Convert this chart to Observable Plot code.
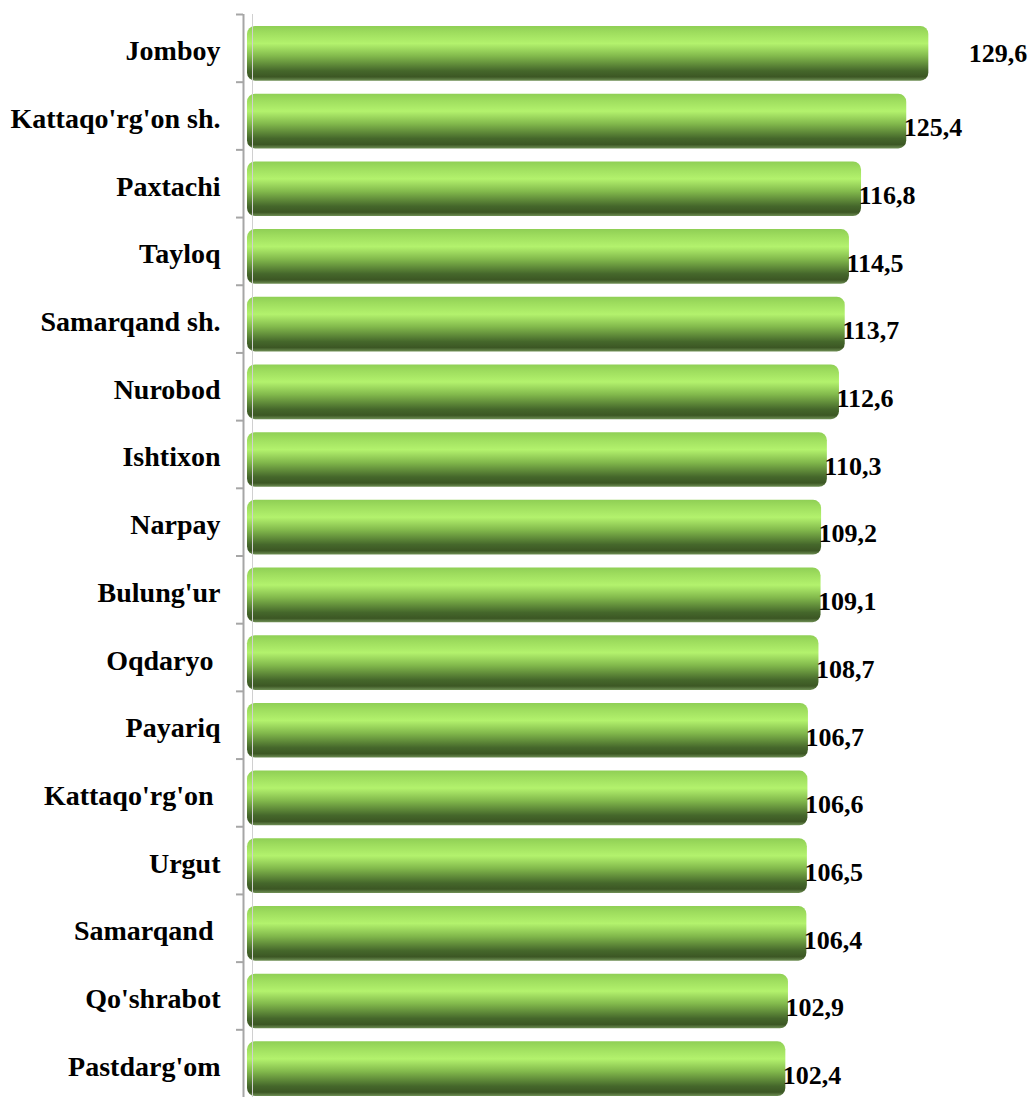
<!DOCTYPE html>
<html>
<head>
<meta charset="utf-8">
<script src="https://cdn.jsdelivr.net/npm/d3@7"></script>
<script src="https://cdn.jsdelivr.net/npm/@observablehq/plot@0.6"></script>
<style>
  html, body { margin: 0; padding: 0; background: #fff; }
  #chart svg { display: block; }
</style>
</head>
<body>
<div id="chart"></div>
<script>
const categories = ["Jomboy", "Kattaqo'rg'on sh.", "Paxtachi", "Tayloq", "Samarqand sh.", "Nurobod", "Ishtixon", "Narpay", "Bulung'ur", "Oqdaryo\u00a0", "Payariq", "Kattaqo'rg'on\u00a0", "Urgut", "Samarqand\u00a0", "Qo'shrabot", "Pastdarg'om"];
const values = [129.6, 125.4, 116.8, 114.5, 113.7, 112.6, 110.3, 109.2, 109.1, 108.7, 106.7, 106.6, 106.5, 106.4, 102.9, 102.4];
const valueLabels = ["129,6", "125,4", "116,8", "114,5", "113,7", "112,6", "110,3", "109,2", "109,1", "108,7", "106,7", "106,6", "106,5", "106,4", "102,9", "102,4"];

const data = categories.map((c, i) => ({category: c, value: values[i], label: valueLabels[i], first: i === 0}));

const W = 1030, H = 1100, mt = 14, mb = 3;
const step = (H - mt - mb) / categories.length;

const chart = Plot.plot({
  width: W,
  height: H,
  marginLeft: 247,
  marginRight: 47,
  marginTop: mt,
  marginBottom: mb,
  style: {fontFamily: "'Liberation Serif', 'Times New Roman', serif", background: "#fff"},
  x: {domain: [0, 140], axis: null},
  y: {domain: categories, padding: 0, round: false, label: null},
  marks: [
    Plot.barX(data, {y: "category", x: "value", fill: "url(#cyl)", insetTop: 12, insetBottom: 1, rx: 8}),
    Plot.ruleX([0], {dx: -4, stroke: "#a6a6a6", strokeWidth: 2}),
    Plot.ruleX([0], {dx: 5, stroke: "#d0d0d0", strokeWidth: 1}),
    Plot.axisY({tickSize: 7, dx: -4, dy: -step / 2, tickFormat: () => "", stroke: "#a6a6a6", strokeWidth: 2}),
    Plot.axisY({tickSize: 0, tickPadding: 27, dy: 3, fontSize: 28, fontWeight: "bold", fill: "#000"}),
    Plot.text(data.filter(d => d.first), {y: "category", x: "value", text: "label", textAnchor: "start", dx: 40, dy: 5, fontSize: 26, fontWeight: "bold", fill: "#000"}),
    Plot.text(data.filter(d => !d.first), {y: "category", x: "value", text: "label", textAnchor: "start", dx: -3, dy: 12, fontSize: 26, fontWeight: "bold", fill: "#000"})
  ]
});

const ns = "http://www.w3.org/2000/svg";
const defs = document.createElementNS(ns, "defs");
defs.innerHTML = `<linearGradient id="cyl" x1="0" y1="0" x2="0" y2="1">
  <stop offset="0" stop-color="#8fcf55"/>
  <stop offset="0.12" stop-color="#9edd5e"/>
  <stop offset="0.32" stop-color="#b3f26d"/>
  <stop offset="0.55" stop-color="#82b94c"/>
  <stop offset="0.82" stop-color="#45672b"/>
  <stop offset="0.93" stop-color="#3c5724"/>
  <stop offset="1" stop-color="#6f8f55"/>
</linearGradient>`;
chart.insertBefore(defs, chart.firstChild);
document.getElementById("chart").appendChild(chart);
</script>
</body>
</html>
